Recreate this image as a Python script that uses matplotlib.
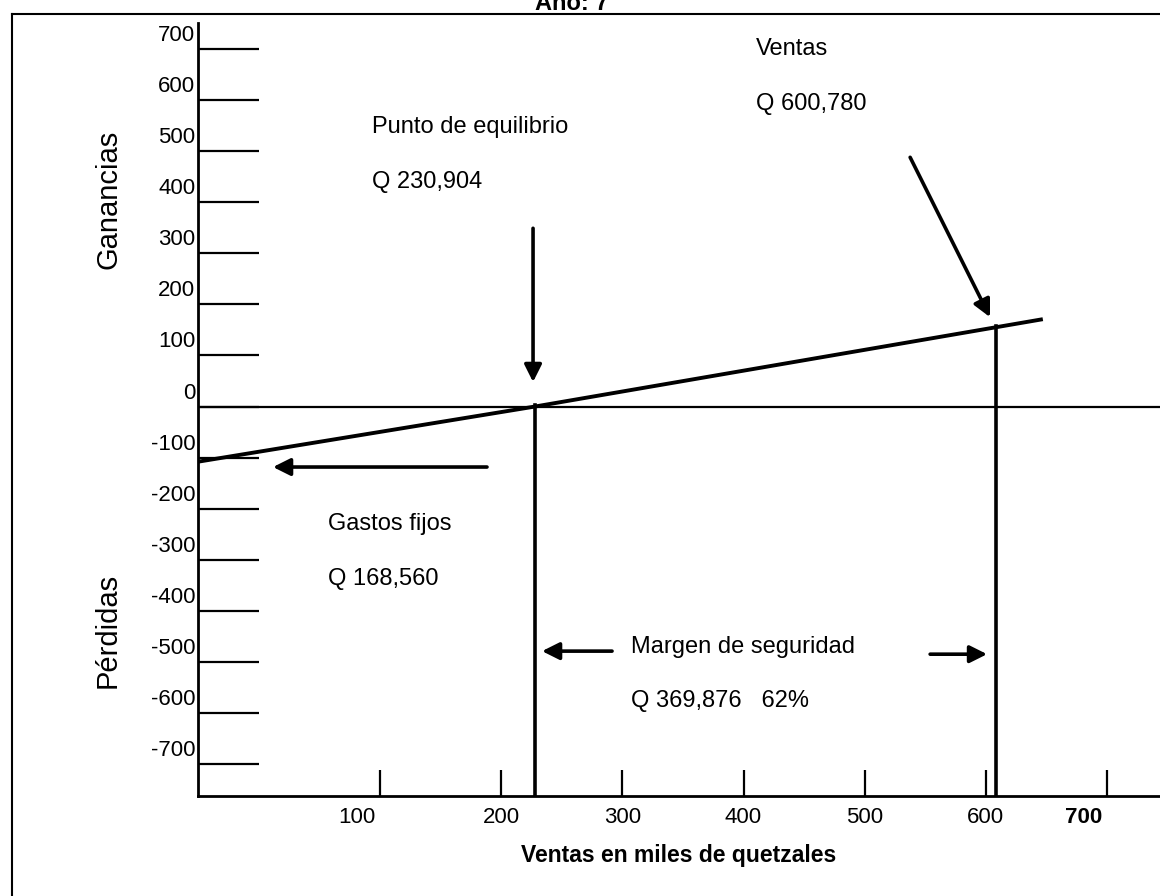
import matplotlib.pyplot as plt
from matplotlib.lines import Line2D
from matplotlib.transforms import ScaledTranslation

plt.rcParams['font.family'] = ['Liberation Sans', 'DejaVu Sans']

# Datos del gráfico (miles de quetzales)
linea_x = [-50, 228, 647]
linea_y = [-108, 0, 171]
punto_equilibrio = 227.5
ventas = 608
ventas_y = 158

y_ticks = [-700, -600, -500, -400, -300, -200, -100, 0, 100, 200, 300, 400, 500, 600, 700]
x_ticks = [100, 200, 300, 400, 500, 600, 700]
x_tick_labels = ['100', '200', '300', '400', '500', '600', '700']

# textos: (x, y, texto)
notas = [
    (410, 688, 'Ventas'),
    (410, 580, 'Q 600,780'),
    (93, 535, 'Punto de equilibrio'),
    (93, 428, 'Q 230,904'),
    (57, -242, 'Gastos fijos'),
    (57, -350, 'Q 168,560'),
    (307, -483, 'Margen de seguridad'),
    (307, -588, 'Q 369,876   62%'),
]

# flechas: (cola, punta)
flechas = [
    ((226.3, 349), (226.3, 48)),
    ((537.5, 488), (603.4, 175)),
    ((188.3, -118.5), (11.7, -118.5)),
    ((291.5, -479), (233.7, -479)),
    ((554, -485), (601, -485)),
]

fig = plt.figure(figsize=(11.6, 8.96), dpi=100)
ax = fig.add_axes([198 / 1160, 1 - 796 / 896, 1 - 198 / 1160, (796 - 23) / 896])

ax.set_xlim(-50.2, 743.7)
ax.set_ylim(-762.7, 751)

for s in ['top', 'right']:
    ax.spines[s].set_visible(False)
for s in ['left', 'bottom']:
    ax.spines[s].set_linewidth(2)

ax.axhline(0, color='black', lw=1.6)
ax.plot(linea_x, linea_y, color='black', lw=2.8, solid_capstyle='butt')
ax.plot([punto_equilibrio, punto_equilibrio], [3, -762.7], color='black', lw=2.6)
ax.plot([ventas, ventas], [ventas_y, -762.7], color='black', lw=2.6)

for cola, punta in flechas:
    ax.annotate('', xy=punta, xytext=cola,
                arrowprops=dict(arrowstyle='-|>', color='black', lw=2.6,
                                mutation_scale=26, shrinkA=0, shrinkB=0))

for x, y, t in notas:
    ax.text(x, y, t, fontsize=17, va='baseline', ha='left')

# ejes
ax.set_yticks(y_ticks)
ax.set_yticklabels([str(v) for v in y_ticks])
ax.tick_params(axis='y', direction='in', length=44, width=1.6, pad=2, labelsize=16)
off_y = ScaledTranslation(0, 0.16, fig.dpi_scale_trans)
for lab in ax.get_yticklabels():
    lab.set_transform(lab.get_transform() + off_y)

ax.set_xticks(x_ticks)
ax.set_xticklabels(x_tick_labels)
ax.tick_params(axis='x', direction='in', length=19, width=1.6, pad=8, labelsize=16)
for lab in ax.get_xticklabels():
    if lab.get_text() in ('100', '700'):
        lab.set_transform(lab.get_transform() + ScaledTranslation(-0.23, 0, fig.dpi_scale_trans))
    if lab.get_text() == '700':
        lab.set_fontweight('bold')

ax.set_xlabel('Ventas en miles de quetzales', fontsize=16.5, fontweight='bold', va='center')
ax.xaxis.set_label_coords(0.5, -0.0776)

fig.text(108 / 1160, 1 - 199 / 896, 'Ganancias', rotation=90, fontsize=21, ha='center', va='center')
fig.text(108 / 1160, 1 - 630 / 896, 'Pérdidas', rotation=90, fontsize=21, ha='center', va='center')
fig.text(572 / 1160, 1 - 10 / 896, 'Año: 7', fontsize=17, fontweight='bold', ha='center', va='baseline')

# marco exterior
fig.add_artist(Line2D([12 / 1160, 12 / 1160], [0, 1 - 14 / 896], color='black', lw=1.5))
fig.add_artist(Line2D([12 / 1160, 1], [1 - 14 / 896, 1 - 14 / 896], color='black', lw=1.5))

fig.savefig('out.png', dpi=100)
